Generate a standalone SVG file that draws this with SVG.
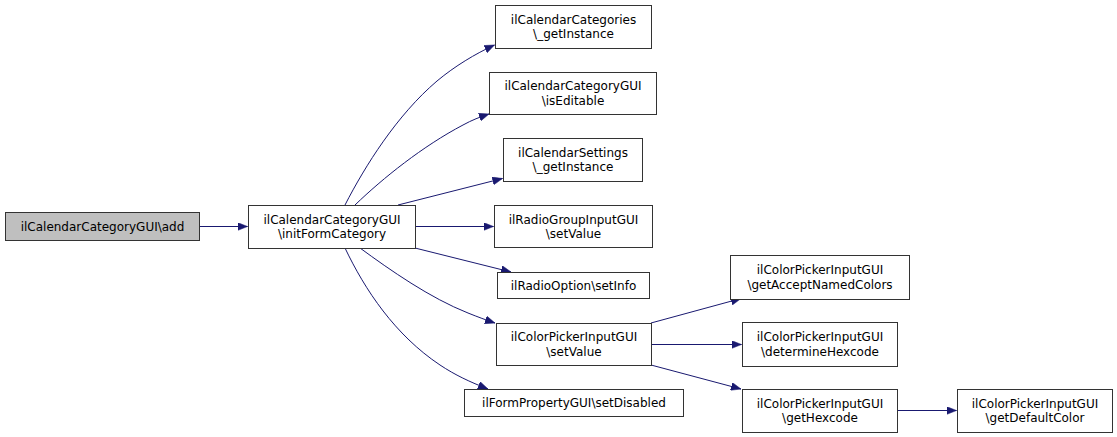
<svg xmlns="http://www.w3.org/2000/svg" width="1117" height="437" viewBox="0 0 1117 437">
<defs>
<style>
.n rect{fill:#ffffff;stroke:#333333;stroke-width:1}
.n.root rect{fill:#bfbfbf}
text{font-family:"DejaVu Sans","Liberation Sans",sans-serif;font-size:12px;fill:#000000;text-anchor:middle}
.e path{fill:none;stroke:#191970;stroke-width:1}
</style>
<marker id="ah" markerWidth="11" markerHeight="8" refX="10" refY="4" orient="auto" markerUnits="userSpaceOnUse">
<path d="M0,0 L10,4 L0,8 z" fill="#191970" stroke="#191970" stroke-width="0.5"/>
</marker>
</defs>
<rect width="1117" height="437" fill="#ffffff"/>
<g id="edges" class="e">
<path d="M199.5,226.5 L247.5,226.5" marker-end="url(#ah)"/>
<path d="M345,205 C365,166 397,115 437,81 C455,66 475,54 494.5,45" marker-end="url(#ah)"/>
<path d="M355,205 C383,178 423,146 463,125 C472,120 480,117 489,114" marker-end="url(#ah)"/>
<path d="M398,205 L502.5,178.5" marker-end="url(#ah)"/>
<path d="M415.5,226.5 L493.5,226.5" marker-end="url(#ah)"/>
<path d="M415,248 L511,272" marker-end="url(#ah)"/>
<path d="M360,248 C390,270 430,298 468,313 C478,317 486,320 495,323" marker-end="url(#ah)"/>
<path d="M345,248 C365,290 395,335 440,365 C455,375 470,382 488,389" marker-end="url(#ah)"/>
<path d="M651,323 L741,298.5" marker-end="url(#ah)"/>
<path d="M651.5,344.5 L741.5,344.5" marker-end="url(#ah)"/>
<path d="M651,365 L741,389" marker-end="url(#ah)"/>
<path d="M897.5,410.5 L956.5,410.5" marker-end="url(#ah)"/>
</g>
<g id="n_add" class="n root"><rect x="5.5" y="212.5" width="194" height="28"/><text x="102.5" y="231">ilCalendarCategoryGUI\add</text></g>
<g id="n_init" class="n"><rect x="248.5" y="205.5" width="167" height="43"/><text x="332" y="223.5">ilCalendarCategoryGUI</text><text x="332" y="238">\initFormCategory</text></g>
<g id="n_cats" class="n"><rect x="495.5" y="5.5" width="156" height="43"/><text x="573.5" y="23.5">ilCalendarCategories</text><text x="573.5" y="38">\_getInstance</text></g>
<g id="n_edit" class="n"><rect x="489.5" y="72.5" width="167" height="42"/><text x="573" y="90">ilCalendarCategoryGUI</text><text x="573" y="104.5">\isEditable</text></g>
<g id="n_settings" class="n"><rect x="503.5" y="138.5" width="139" height="43"/><text x="573" y="156.5">ilCalendarSettings</text><text x="573" y="171">\_getInstance</text></g>
<g id="n_radiogroup" class="n"><rect x="494.5" y="205.5" width="158" height="42"/><text x="573.5" y="223.5">ilRadioGroupInputGUI</text><text x="573.5" y="238">\setValue</text></g>
<g id="n_radiooption" class="n"><rect x="497.5" y="272.5" width="152" height="26"/><text x="573.5" y="289.5">ilRadioOption\setInfo</text></g>
<g id="n_cpsetvalue" class="n"><rect x="496.5" y="323.5" width="155" height="42"/><text x="574" y="341">ilColorPickerInputGUI</text><text x="574" y="355.5">\setValue</text></g>
<g id="n_setdisabled" class="n"><rect x="464.5" y="389.5" width="219" height="27"/><text x="574" y="407">ilFormPropertyGUI\setDisabled</text></g>
<g id="n_named" class="n"><rect x="730.5" y="255.5" width="179" height="44"/><text x="820" y="274">ilColorPickerInputGUI</text><text x="820" y="288.5">\getAcceptNamedColors</text></g>
<g id="n_determine" class="n"><rect x="742.5" y="322.5" width="155" height="44"/><text x="820" y="341">ilColorPickerInputGUI</text><text x="820" y="355.5">\determineHexcode</text></g>
<g id="n_gethex" class="n"><rect x="742.5" y="389.5" width="155" height="43"/><text x="820" y="407.5">ilColorPickerInputGUI</text><text x="820" y="422">\getHexcode</text></g>
<g id="n_default" class="n"><rect x="957.5" y="389.5" width="155" height="43"/><text x="1035" y="407.5">ilColorPickerInputGUI</text><text x="1035" y="422">\getDefaultColor</text></g>
</svg>
